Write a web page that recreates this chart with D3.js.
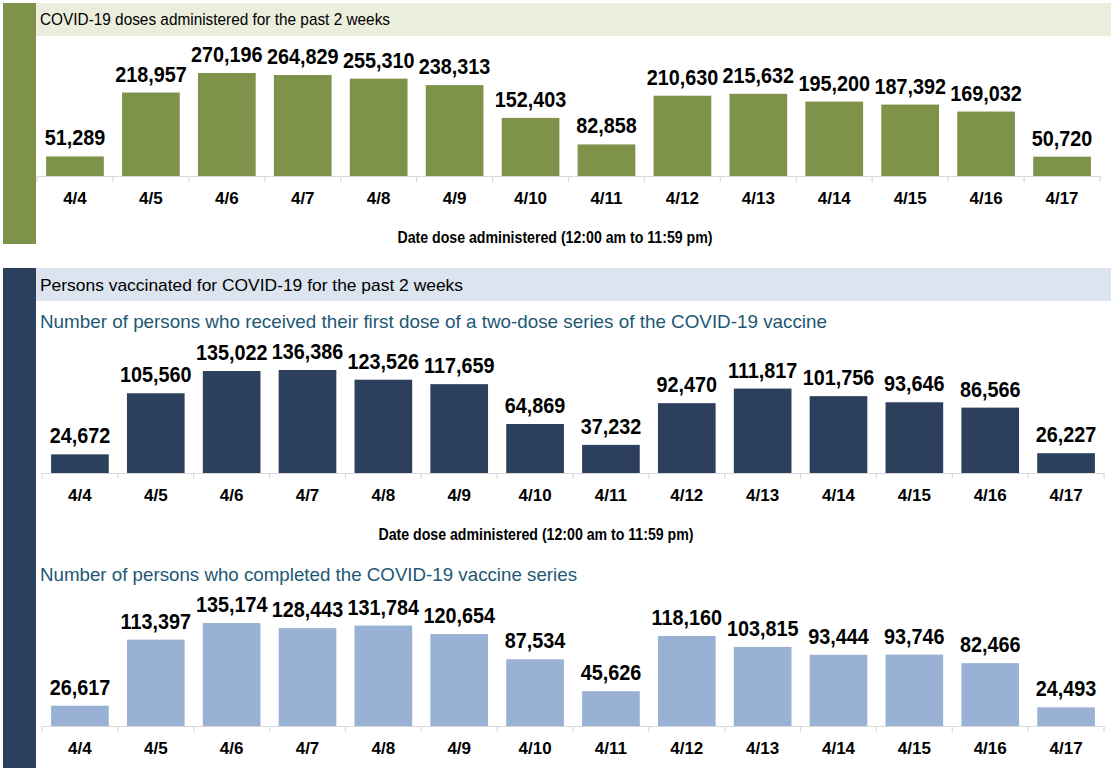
<!DOCTYPE html>
<html>
<head>
<meta charset="utf-8">
<script src="https://cdn.jsdelivr.net/npm/d3@7"></script>
<style>
  html, body { margin: 0; padding: 0; background: #ffffff; }
  svg { display: block; font-family: "Liberation Sans", Arial, sans-serif; }
</style>
</head>
<body>
<svg id="chart" width="1111" height="768"></svg>
<script>
const dates = ["4/4","4/5","4/6","4/7","4/8","4/9","4/10","4/11","4/12","4/13","4/14","4/15","4/16","4/17"];
const dosesAdministered = [51289,218957,270196,264829,255310,238313,152403,82858,210630,215632,195200,187392,169032,50720];
const firstDose = [24672,105560,135022,136386,123526,117659,64869,37232,92470,111817,101756,93646,86566,26227];
const completedSeries = [26617,113397,135174,128443,131784,120654,87534,45626,118160,103815,93444,93746,82466,24493];

const sectionTitles = ["COVID-19 doses administered for the past 2 weeks", "Persons vaccinated for COVID-19 for the past 2 weeks"];
const subTitles = ["Number of persons who received their first dose of a two-dose series of the COVID-19 vaccine", "Number of persons who completed the COVID-19 vaccine series"];
const axisTitle = "Date dose administered (12:00 am to 11:59 pm)";

const svg = d3.select("#chart");
const fmt = d3.format(",");

// Section side bars and header bands
svg.append("rect").attr("x", 3).attr("y", 3).attr("width", 33).attr("height", 241).attr("fill", "#7f9249");
svg.append("rect").attr("x", 36).attr("y", 3).attr("width", 1075).attr("height", 33).attr("fill", "#ebeedd");
svg.append("text").attr("x", 40).attr("y", 25).attr("font-size", 17).attr("fill", "#000")
  .attr("textLength", 350).attr("lengthAdjust", "spacingAndGlyphs").text(sectionTitles[0]);

svg.append("rect").attr("x", 3).attr("y", 268).attr("width", 33).attr("height", 500).attr("fill", "#2c3f5d");
svg.append("rect").attr("x", 36).attr("y", 268).attr("width", 1075).attr("height", 33).attr("fill", "#dce4ef");
svg.append("text").attr("x", 40).attr("y", 291).attr("font-size", 17).attr("fill", "#000")
  .attr("textLength", 423).attr("lengthAdjust", "spacingAndGlyphs").text(sectionTitles[1]);

svg.append("text").attr("x", 40).attr("y", 328).attr("font-size", 19).attr("fill", "#215774")
  .attr("textLength", 787).attr("lengthAdjust", "spacingAndGlyphs").text(subTitles[0]);
svg.append("text").attr("x", 40).attr("y", 581).attr("font-size", 19).attr("fill", "#215774")
  .attr("textLength", 537).attr("lengthAdjust", "spacingAndGlyphs").text(subTitles[1]);

function drawChart(values, baseline, color, x0, x1, titleX) {
  const x = d3.scaleBand().domain(dates).range([x0, x1]).paddingInner(0.24).paddingOuter(0.12);
  const y = d3.scaleLinear().domain([0, d3.max(values)]).range([baseline, baseline - 103]);
  const g = svg.append("g");
  g.selectAll("rect.bar").data(values).enter().append("rect")
    .attr("class", "bar")
    .attr("x", (d, i) => x(dates[i]))
    .attr("y", d => y(d))
    .attr("width", x.bandwidth())
    .attr("height", d => baseline - y(d))
    .attr("fill", color);
  g.selectAll("text.val").data(values).enter().append("text")
    .attr("class", "val")
    .attr("transform", (d, i) => `translate(${x(dates[i]) + x.bandwidth() / 2},${y(d) - 11}) scale(0.9,1)`)
    .attr("text-anchor", "middle")
    .attr("font-size", 22).attr("font-weight", "bold").attr("fill", "#000")
    .text(d => fmt(d));
  // axis
  const axis = d3.axisBottom(x).tickSize(0).tickSizeOuter(0).tickPadding(0);
  const ag = g.append("g").attr("transform", `translate(0,${baseline})`).call(axis);
  ag.select(".domain").attr("stroke", "#d9d9d9").attr("stroke-width", 1.2);
  ag.selectAll(".tick text").attr("y", 28).attr("dy", null)
    .attr("font-size", 17).attr("font-weight", "bold").attr("fill", "#000")
    .attr("font-family", "'Liberation Sans', Arial, sans-serif");
  // band separator ticks
  const step = x.step();
  const bounds = d3.range(dates.length + 1).map(i => x.range()[0] + i * step);
  ag.selectAll("line.sep").data(bounds).enter().append("line")
    .attr("class", "sep")
    .attr("x1", d => d).attr("x2", d => d).attr("y1", 0).attr("y2", 6)
    .attr("stroke", "#d9d9d9").attr("stroke-width", 1.2);
  if (titleX !== null) {
    g.append("text").attr("x", titleX).attr("y", baseline + 67).attr("text-anchor", "middle")
      .attr("font-size", 16).attr("font-weight", "bold").attr("fill", "#000")
      .attr("textLength", 315).attr("lengthAdjust", "spacingAndGlyphs")
      .text(axisTitle);
  }
}

drawChart(dosesAdministered, 176, "#7f9249", 37, 1100, 555);
drawChart(firstDose, 473, "#2c3f5d", 42, 1104, 536);
drawChart(completedSeries, 726, "#98b1d4", 42, 1104, null);
</script>
</body>
</html>
